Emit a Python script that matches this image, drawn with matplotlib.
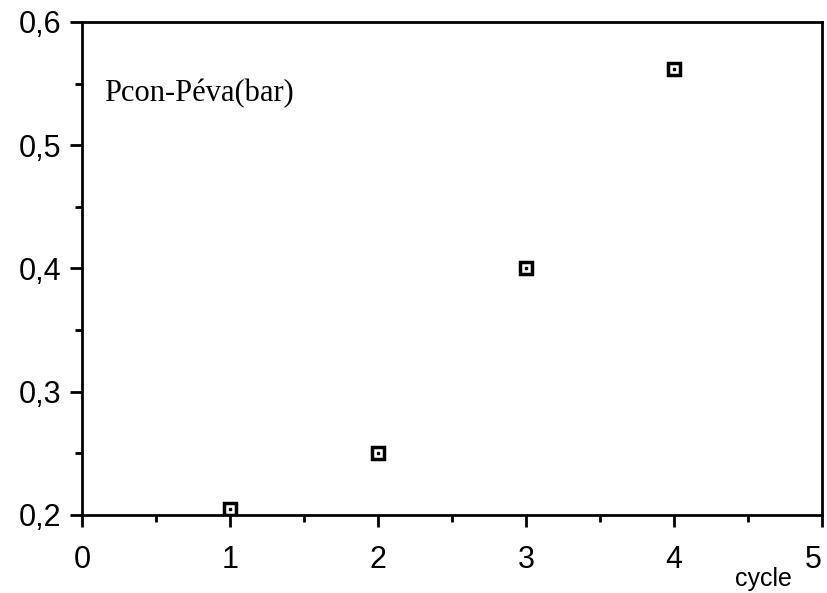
import matplotlib
matplotlib.use('Agg')
import matplotlib.pyplot as plt
from matplotlib.ticker import MultipleLocator, FuncFormatter

# === Donnees ===
cycle = [1, 2, 3, 4]
dp = [0.205, 0.25, 0.40, 0.562]
x_ticks = [0, 1, 2, 3, 4, 5]
y_ticks = [0.2, 0.3, 0.4, 0.5, 0.6]

plt.rcParams['font.family'] = ['Liberation Sans', 'DejaVu Sans']

fig = plt.figure(figsize=(8.27, 5.93), dpi=100)
ax = fig.add_axes([0.099, 0.132, 0.895, 0.831])

# carres creux avec un petit point au centre
ax.plot(cycle, dp, linestyle='none', marker='s', markersize=8.5,
        markerfacecolor='white', markeredgecolor='black', markeredgewidth=2.5)
ax.plot(cycle, dp, linestyle='none', marker='s', markersize=2,
        markerfacecolor='black', markeredgecolor='black')

ax.set_xlim(0, 5)
ax.set_ylim(0.2, 0.6)
ax.set_xticks(x_ticks)
ax.set_yticks(y_ticks)
ax.xaxis.set_minor_locator(MultipleLocator(0.5))
ax.yaxis.set_minor_locator(MultipleLocator(0.05))
ax.yaxis.set_major_formatter(FuncFormatter(lambda v, p: f"{v:.1f}".replace('.', ',')))

for s in ax.spines.values():
    s.set_linewidth(2)
ax.tick_params(which='major', direction='out', length=8.5, width=2, labelsize=22)
ax.tick_params(which='minor', direction='out', length=5, width=2)
ax.tick_params(axis='x', which='major', pad=13)
ax.tick_params(axis='y', which='major', pad=6)

# le "5" colle au bord droit
fig.canvas.draw()
ax.get_xticklabels()[-1].set_horizontalalignment('right')

ax.text(0.03, 0.84, 'Pcon-Péva(bar)', transform=ax.transAxes,
        family='Liberation Serif', fontsize=22, va='baseline')
fig.text(0.958, 0.012, 'cycle', fontsize=18, ha='right', va='baseline')

fig.savefig('out.png', dpi=100)
